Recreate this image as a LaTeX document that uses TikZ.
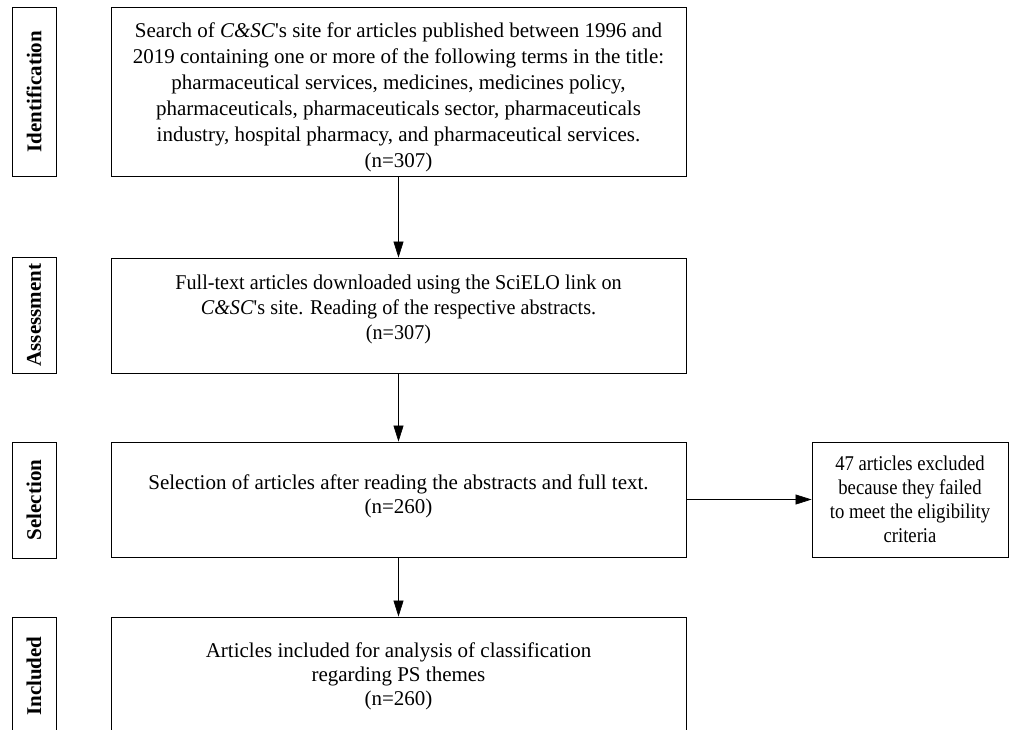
\documentclass[tikz,border=0pt]{standalone}
\usepackage{fontspec}
\setmainfont{Liberation Serif}
\newfontfamily\slimfont{Liberation Serif}[FakeStretch=0.96]
\newfontfamily\narrowfont{Liberation Serif}[FakeStretch=0.89]
\usetikzlibrary{arrows.meta}
\newcommand{\pushdown}[1]{\rule{0pt}{#1}}
\newcommand{\pushup}[1]{\rule[-#1]{0pt}{1pt}}
\begin{document}
\begin{tikzpicture}[x=1pt,y=-1pt,font=\fontsize{21}{26}\selectfont,
  box/.style={draw,line width=0.9pt,align=center,inner sep=0pt,minimum width=575pt},
  side/.style={draw,line width=0.9pt,rotate=90,minimum height=44pt,inner sep=0pt,
    font=\fontsize{21}{26}\selectfont\bfseries},
  flow/.style={-{Triangle[length=16pt,width=10pt]},line width=0.7pt}]
  \useasboundingbox (0,0) rectangle (1015,729);
  \clip (0,0) rectangle (1015,729);
  % stage labels
  \node[side,minimum width=169pt] (lident) at (34,91.5) {Identification};
  \node[side,minimum width=116pt] (lassess) at (34,315) {Assessment};
  \node[side,minimum width=116pt] (lsel) at (34,500) {Selection};
  \node[side,minimum width=118pt] (lincl) at (34,676) {Included};
  % identification
  \node[box,minimum height=169pt] (ident) at (398.5,91.5)
    {\pushdown{26pt}Search of \textit{C\&SC}\textquotesingle s site for articles published between 1996 and\\
     2019 containing one or more of the following terms in the title:\\
     pharmaceutical services, medicines, medicines policy,\\
     pharmaceuticals, pharmaceuticals sector, pharmaceuticals\\
     industry, hospital pharmacy, and pharmaceutical services.\\
     (n=307)};
  % assessment
  \node[box,minimum height=115pt,font=\fontsize{21}{25}\slimfont] (assess) at (398.5,315.5)
    {Full-text articles downloaded using the SciELO link on\\
     \textit{C\&SC}\textquotesingle s site. Reading of the respective abstracts.\\
     (n=307)\pushup{16pt}};
  % selection
  \node[box,minimum height=115pt,font=\fontsize{21}{24}\selectfont] (sel) at (398.5,499.5)
    {Selection of articles after reading the abstracts and full text.\\
     (n=260)\pushup{11pt}};
  \node[box,minimum width=196pt,minimum height=115pt,font=\fontsize{21}{24}\narrowfont] (excl) at (910,499.5)
    {47 articles excluded\\ because they failed\\ to meet the eligibility\\ criteria};
  % included
  \node[box,minimum height=118pt,font=\fontsize{21}{24}\selectfont] (incl) at (398.5,676)
    {Articles included for analysis of classification\\
     regarding PS themes\\
     (n=260)};
  % arrows
  \draw[flow] (ident) -- (assess);
  \draw[flow] (assess) -- (sel);
  \draw[flow] (sel) -- (excl);
  \draw[flow] (sel) -- (incl);
\end{tikzpicture}
\end{document}
